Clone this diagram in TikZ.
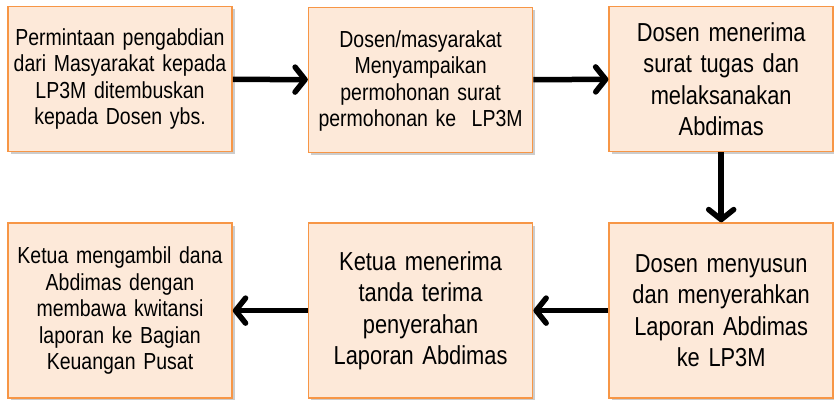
\documentclass[tikz,border=0pt]{standalone}
\usepackage{fontspec}
\setmainfont{Liberation Sans}[FakeStretch=0.84, WordSpace=0.84]
\usetikzlibrary{positioning,shadows,arrows.meta}
\definecolor{peach}{RGB}{253, 233, 217}
\definecolor{tangerine}{RGB}{247, 150, 70}
\definecolor{black}{RGB}{0, 0, 0}
\definecolor{white}{RGB}{255, 255, 255}

\begin{document}
\begin{tikzpicture}[
        x=1pt, y=1pt,
        node distance=75pt,
        box/.style={
            draw=tangerine,
            line width=1.6pt,
            fill=peach,
            drop shadow={shadow xshift=2.5pt, shadow yshift=-2.5pt, fill=black, opacity=0.2},
            minimum width=224pt,
            text width=214pt,
            align=center,
            inner sep=0pt
        },
        upper/.style={box, minimum height=145pt},
        lower/.style={box, minimum height=175pt},
        smalltext/.style={font=\fontsize{23.2}{26.5}\selectfont},
        bigtext/.style={font=\fontsize{26}{31.5}\selectfont},
        flow/.style={
            line width=5.5pt,
            -{Straight Barb[length=10pt, width=25pt, round]}
        }
    ]

    \fill[white] (0,0) rectangle (834,-399);
    \useasboundingbox (0,0) rectangle (834,-399);

    \node[upper, smalltext] (request) at (120,-79) {Permintaan pengabdian\\dari Masyarakat kepada\\LP3M ditembuskan\\kepada Dosen ybs.};
    \node[upper, smalltext, right=of request, yshift=-1pt] (letter) {\\[-8pt]Dosen/masyarakat\\Menyampaikan\\permohonan surat\\permohonan ke~~LP3M};
    \node[upper, bigtext, right=of letter, yshift=1pt] (tasks) {Dosen menerima\\surat tugas dan\\melaksanakan\\Abdimas};
    \node[lower, bigtext, below=70pt of tasks] (report) {Dosen menyusun\\dan menyerahkan\\Laporan Abdimas\\ke LP3M};
    \node[lower, bigtext, left=of report] (receipt) {Ketua menerima\\tanda terima\\penyerahan\\Laporan Abdimas};
    \node[lower, smalltext, left=of receipt] (funds) {Ketua mengambil dana\\Abdimas dengan\\membawa kwitansi\\laporan ke Bagian\\Keuangan Pusat};

    \draw[flow] (request) -- (letter);
    \draw[flow] (letter) -- (tasks);
    \draw[flow] (tasks) -- (report);
    \draw[flow] (report) -- (receipt);
    \draw[flow] (receipt) -- (funds);
\end{tikzpicture}
\end{document}
